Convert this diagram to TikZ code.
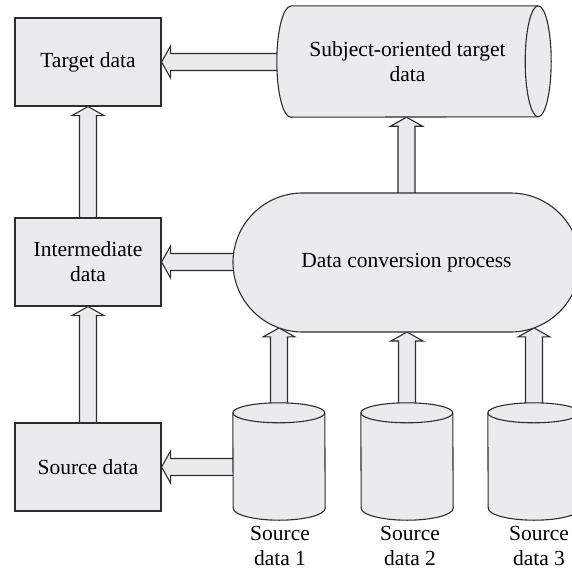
\documentclass[tikz,border=0pt]{standalone}
\usepackage{fontspec}
\setmainfont{Liberation Serif}
\usetikzlibrary{calc,intersections,shapes.misc}

\definecolor{shapefill}{RGB}{235,235,237}
\definecolor{edge}{RGB}{45,45,45}

\pgfdeclarelayer{arrowlayer}
\pgfdeclarelayer{bodylayer}
\pgfsetlayers{arrowlayer,bodylayer,main}

\tikzset{
  outline/.style={draw=edge, line width=1.1pt, fill=shapefill},
  box/.style={outline, rectangle, minimum width=146pt, minimum height=88pt,
    inner sep=0pt, align=center},
  bigarrow/.style={draw=edge, line width=1.1pt, fill=shapefill, line join=miter},
  slot/.style={inner sep=0pt, align=center},
}

% hollow block arrow from #1 (tail) to #2 (tip)
\newcommand\blockarrow[2]{%
  \filldraw[bigarrow] let \p1=(#1), \p2=(#2), \n1={atan2(\y2-\y1,\x2-\x1)} in
    (\p2)
    -- ($(\p2)+(\n1+180:9pt)+(\n1+90:16pt)$)
    -- ($(\p2)+(\n1+180:9pt)+(\n1+90:8.5pt)$)
    -- ($(\p1)+(\n1+90:8.5pt)$)
    -- ($(\p1)+(\n1-90:8.5pt)$)
    -- ($(\p2)+(\n1+180:9pt)+(\n1-90:8.5pt)$)
    -- ($(\p2)+(\n1+180:9pt)+(\n1-90:16pt)$)
    -- cycle;}

% upright storage drum inside the frame of node #1
\newcommand\drum[1]{%
  \draw[outline] ([yshift=-10pt]#1.north west)
    arc[start angle=180, end angle=0, x radius=46pt, y radius=10pt]
    -- ([yshift=12pt]#1.south east)
    arc[start angle=0, end angle=-180, x radius=46pt, y radius=12pt] -- cycle;
  \draw[outline, fill=none] ([yshift=-10pt]#1.north west)
    arc[start angle=180, end angle=360, x radius=46pt, y radius=10pt];}

\begin{document}
\begin{tikzpicture}[x=1pt, y=-1pt, font=\fontsize{21.5}{25}\selectfont]
\clip (0,0) rectangle (572,573);

% left column
\node[box] (target) at (88,62) {Target data};
\node[box] (inter) at (88,262) {Intermediate\\data};
\node[box] (src) at (88,467) {Source data};

% conversion process
\node[outline, rounded rectangle, minimum width=347pt, minimum height=139pt,
  inner sep=0pt, name path=procpath] (proc) at (406.5,262.5) {Data conversion process};

% subject-oriented store (horizontal cylinder); the node spans up to the
% centre of the end face
\node[slot, minimum width=261pt, minimum height=111pt] (subj) at (407.5,61.5)
  {Subject-oriented target\\data};
\begin{pgfonlayer}{bodylayer}
  \draw[outline] ([xshift=14pt]subj.north west) -- (subj.north east)
    arc[start angle=90, end angle=-90, x radius=13pt, y radius=55.5pt]
    -- ([xshift=14pt]subj.south west)
    arc[start angle=270, end angle=90, x radius=14pt, y radius=55.5pt] -- cycle;
  \draw[outline, fill=none] (subj.north east)
    arc[start angle=90, end angle=270, x radius=13pt, y radius=55.5pt];
\end{pgfonlayer}

% source drums
\node[slot, minimum width=92pt, minimum height=117pt] (sd1) at (279,461.5) {};
\node[slot, minimum width=92pt, minimum height=117pt] (sd2) at (407,461.5) {};
\node[slot, minimum width=92pt, minimum height=117pt] (sd3) at (534,461.5) {};
\begin{pgfonlayer}{bodylayer}
  \drum{sd1}\drum{sd2}\drum{sd3}
\end{pgfonlayer}

\node[slot, anchor=north] (l1) at ([xshift=1pt,yshift=-6pt]sd1.south) {Source\\data 1};
\node[slot, anchor=north] (l2) at ([xshift=3pt,yshift=-6pt]sd2.south) {Source\\data 2};
\node[slot, anchor=north] (l3) at ([xshift=5pt,yshift=-6pt]sd3.south) {Source\\data 3};

% where the drum arrows meet the lower edge of the process outline
\foreach \s/\t in {sd1/t1, sd2/t2, sd3/t3}{
  \path[name path=ray] (\s.center) -- ([yshift=160pt]\s.center);
  \path[name intersections={of=procpath and ray, by=\t}];
}

% block arrows
\begin{pgfonlayer}{arrowlayer}
  \blockarrow{target.east -| subj.center}{target.east}
  \blockarrow{inter.center}{target.south}
  \blockarrow{src.center}{inter.south}
  \blockarrow{inter.east -| proc.center}{inter.east}
  \blockarrow{src.east -| sd1.center}{src.east}
  \blockarrow{proc.center}{proc.center |- subj.south}
  \blockarrow{sd1.center}{t1}
  \blockarrow{sd2.center}{t2}
  \blockarrow{sd3.center}{t3}
\end{pgfonlayer}
\end{tikzpicture}
\end{document}
